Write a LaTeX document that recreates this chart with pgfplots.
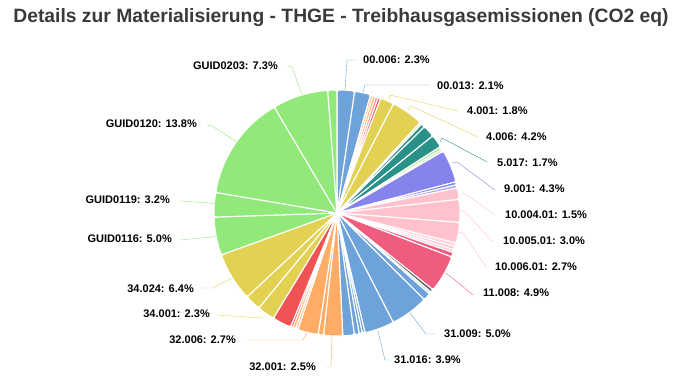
\documentclass[border=0pt]{standalone}
\usepackage{pgfplots}
\pgfplotsset{compat=1.18}
\usepackage{pgfplotstable}
\usepackage{fontspec}
\setmainfont{Liberation Sans}

\definecolor{cBlue}{RGB}{110,162,218}
\definecolor{cGreen}{RGB}{145,233,122}
\definecolor{cYellow}{RGB}{226,209,82}
\definecolor{cTeal}{RGB}{42,145,136}
\definecolor{cPurple}{RGB}{132,132,236}
\definecolor{cPink}{RGB}{255,193,204}
\definecolor{cCrimson}{RGB}{240,92,126}
\definecolor{cGray}{RGB}{85,85,85}
\definecolor{cOrange}{RGB}{255,172,102}
\definecolor{cRed}{RGB}{239,83,83}
\definecolor{cLOrange}{RGB}{255,204,160}
\definecolor{cLRed}{RGB}{255,140,140}
\definecolor{cPale}{RGB}{238,232,170}
\definecolor{cLGreen}{RGB}{185,235,165}
\definecolor{cLTeal}{RGB}{170,225,215}
\definecolor{cLPink}{RGB}{255,212,220}
\definecolor{cLPurple}{RGB}{170,170,240}
\definecolor{titlegray}{RGB}{58,58,58}

% slices clockwise from 12 o'clock, values in percent
\pgfplotstableread{
name      value color
00.006    2.3   cBlue
00.013    2.1   cBlue
s03       0.35  cLOrange
s04       0.35  cOrange
s05       0.35  cLRed
s06       0.35  cRed
4.001     1.8   cYellow
4.006     4.2   cYellow
s09       0.3   cPale
s10       0.5   cTeal
s11       1.6   cTeal
5.017     1.7   cTeal
s13       0.4   cLGreen
s14       0.3   cLGreen
9.001     4.3   cPurple
s16       0.4   cPurple
s17       0.4   cLPurple
10.004.01 1.5   cPink
10.005.01 3.0   cPink
10.006.01 2.7   cPink
s21       0.5   cLPink
s22       0.4   cPink
s23       0.4   cLPink
s24       0.6   cCrimson
11.008    4.9   cCrimson
s26       0.4   cGray
s27       0.3   cLTeal
s28       1.0   cBlue
31.009    5.0   cBlue
31.016    3.9   cBlue
s31       0.35  cBlue
s32       0.4   cBlue
s33       0.65  cBlue
s34       1.5   cBlue
32.001    2.5   cOrange
s36       0.7   cOrange
32.006    2.7   cOrange
s38       0.35  cLOrange
s39       0.35  cOrange
s40       0.3   cRed
s41       2.5   cRed
34.001    2.3   cYellow
s43       2.1   cYellow
34.024    6.4   cYellow
GUID0116  5.0   cGreen
GUID0119  3.2   cGreen
GUID0120  13.8  cGreen
GUID0203  7.3   cGreen
s49       1.2   cGreen
}\piedata

\newcommand\lbl{\bfseries\fontsize{11}{13}\selectfont}

\begin{document}
\begin{tikzpicture}
\pgfplotstablegetrowsof{\piedata}
\pgfmathtruncatemacro\nrows{\pgfplotsretval-1}
\gdef\cumval{0}
\gdef\totval{0}
\foreach \i in {0,...,\nrows}{%
  \pgfplotstablegetelem{\i}{value}\of\piedata
  \pgfmathsetmacro\tmpt{\totval+\pgfplotsretval}%
  \xdef\totval{\tmpt}%
}
\gdef\slices{}
\foreach \i in {0,...,\nrows}{%
  \pgfplotstablegetelem{\i}{value}\of\piedata \let\sval\pgfplotsretval
  \pgfplotstablegetelem{\i}{color}\of\piedata \let\scol\pgfplotsretval
  \pgfmathsetmacro\sa{90-\cumval/\totval*360}%
  \pgfmathsetmacro\sb{90-(\cumval+\sval)/\totval*360}%
  \xdef\slices{\unexpanded\expandafter{\slices}%
    \noexpand\fill[\scol,draw=white,line width=1.1pt,rounded corners=1.5pt]
      (axis cs:337,213) -- ++(\sa:123pt) arc[start angle=\sa,end angle=\sb,radius=123pt] -- cycle;}%
  \pgfmathsetmacro\nc{\cumval+\sval}%
  \xdef\cumval{\nc}%
}
\begin{axis}[x=1pt,y=1pt,xmin=0,xmax=682,ymin=0,ymax=378,y dir=reverse,
  hide axis,clip=false]
\path (axis cs:0,0) rectangle (axis cs:682,378);
\slices
\node[font=\bfseries\fontsize{19.3}{22}\selectfont,text=titlegray] at (axis cs:341,18)
  {Details zur Materialisierung - THGE - Treibhausgasemissionen (CO2 eq)};
% leader lines
\draw[cBlue] (axis cs:345,91) -- (axis cs:347,60) -- (axis cs:355,60);
\draw[cBlue] (axis cs:363,92) -- (axis cs:365,85) -- (axis cs:430,85);
\draw[cYellow] (axis cs:389,99) -- (axis cs:390,95) -- (axis cs:458,111);
\draw[cYellow] (axis cs:408,110) -- (axis cs:411,106) -- (axis cs:478,137);
\draw[cTeal] (axis cs:440,142) -- (axis cs:442,138) -- (axis cs:487,162);
\draw[cPurple] (axis cs:452,163) -- (axis cs:457,162) -- (axis cs:495,190);
\draw[cPink] (axis cs:462,193) -- (axis cs:467,195) -- (axis cs:495,215);
\draw[cPink] (axis cs:460,210) -- (axis cs:465,212) -- (axis cs:493,242);
\draw[cPink] (axis cs:458,232) -- (axis cs:463,233) -- (axis cs:487,268);
\draw[cCrimson] (axis cs:445,273) -- (axis cs:450,276) -- (axis cs:473,295);
\draw[cBlue] (axis cs:410,313) -- (axis cs:426,334) -- (axis cs:436,334);
\draw[cBlue] (axis cs:378,331) -- (axis cs:385,360) -- (axis cs:389,360);
\draw[cOrange] (axis cs:332,335) -- (axis cs:331,367) -- (axis cs:326,367);
\draw[cOrange] (axis cs:307,333) -- (axis cs:303,340) -- (axis cs:247,340);
\draw[cYellow] (axis cs:263,315) -- (axis cs:263,318) -- (axis cs:217,315);
\draw[cYellow] (axis cs:232,278) -- (axis cs:213,288) -- (axis cs:200,288);
\draw[cGreen] (axis cs:216,236) -- (axis cs:212,237) -- (axis cs:180,240);
\draw[cGreen] (axis cs:215,204) -- (axis cs:210,203) -- (axis cs:180,201);
\draw[cGreen] (axis cs:237,142) -- (axis cs:212,126) -- (axis cs:207,125);
\draw[cGreen] (axis cs:302,95) -- (axis cs:292,67) -- (axis cs:288,66);
% labels
\begin{scope}[every node/.style={font=\lbl,inner sep=0pt}]
\node[anchor=west] at (axis cs:363,60) {00.006: 2.3\%};
\node[anchor=west] at (axis cs:437,86) {00.013: 2.1\%};
\node[anchor=west] at (axis cs:467,111) {4.001: 1.8\%};
\node[anchor=west] at (axis cs:486,137) {4.006: 4.2\%};
\node[anchor=west] at (axis cs:497,163) {5.017: 1.7\%};
\node[anchor=west] at (axis cs:504,189) {9.001: 4.3\%};
\node[anchor=west] at (axis cs:505,215) {10.004.01: 1.5\%};
\node[anchor=west] at (axis cs:503,241) {10.005.01: 3.0\%};
\node[anchor=west] at (axis cs:495,267) {10.006.01: 2.7\%};
\node[anchor=west] at (axis cs:483,293) {11.008: 4.9\%};
\node[anchor=west] at (axis cs:444,334) {31.009: 5.0\%};
\node[anchor=west] at (axis cs:394,360) {31.016: 3.9\%};
\node[anchor=east] at (axis cs:316,367) {32.001: 2.5\%};
\node[anchor=east] at (axis cs:236,340) {32.006: 2.7\%};
\node[anchor=east] at (axis cs:210,314) {34.001: 2.3\%};
\node[anchor=east] at (axis cs:194,289) {34.024: 6.4\%};
\node[anchor=east] at (axis cs:172,239) {GUID0116: 5.0\%};
\node[anchor=east] at (axis cs:170,200) {GUID0119: 3.2\%};
\node[anchor=east] at (axis cs:197,124) {GUID0120: 13.8\%};
\node[anchor=east] at (axis cs:278,66) {GUID0203: 7.3\%};
\end{scope}
\end{axis}
\end{tikzpicture}
\end{document}
